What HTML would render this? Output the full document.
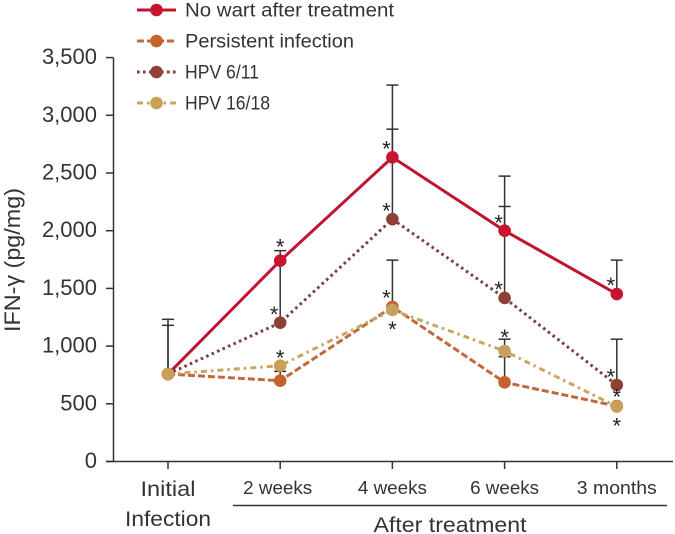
<!DOCTYPE html>
<html>
<head>
<meta charset="utf-8">
<style>
html,body{margin:0;padding:0;background:#fff;width:675px;height:534px;overflow:hidden}
svg{display:block;font-family:"Liberation Sans",sans-serif}
</style>
</head>
<body>
<svg id="chart" xmlns="http://www.w3.org/2000/svg" width="675" height="534" viewBox="0 0 675 534"></svg>
<script>
const categories = ["Initial", "2 weeks", "4 weeks", "6 weeks", "3 months"];
const yTicks = [0, 500, 1000, 1500, 2000, 2500, 3000, 3500];
const yTickLabels = ["0", "500", "1,000", "1,500", "2,000", "2,500", "3,000", "3,500"];

const noWartValues = [758, 1740, 2636, 2000, 1451];
const persistentValues = [758, 700, 1340, 686, 480];
const hpv611Values = [758, 1203, 2100, 1417, 663];
const hpv1618Values = [758, 830, 1313, 957, 476];

const noWartUpper = [1232, 1827, 3262, 2473, 1745];
const persistentUpper = [null, 781, 1745, 908, null];
const hpv611Upper = [1180, 1740, 2880, 2210, 1060];
const hpv1618Upper = [null, null, null, 1060, null];

const noWartStars = [null, 1885, 2734, 2093, 1549];
const persistentStars = [null, null, 1443, null, 334];
const hpv611Stars = [null, 1298, 2197, 1515, 758];
const hpv1618Stars = [null, 925, 1168, 1099, 585];

const noWartStarSide = ["", "center", "left", "left", "left"];
const persistentStarSide = ["", "", "left", "", "center"];
const hpv611StarSide = ["", "left", "left", "left", "left"];
const hpv1618StarSide = ["", "center", "center", "center", "center"];

const seriesNames = ["No wart after treatment", "Persistent infection", "HPV 6/11", "HPV 16/18"];

const svg = document.getElementById('chart');
const NS = 'http://www.w3.org/2000/svg';
const ink = '#333';

function xScale(i) { return 168 + i * 112.2; }
function yScale(v) { return 461.5 - v * 0.1154; }

function make(tag, attrs, text) {
  const el = document.createElementNS(NS, tag);
  for (const k in attrs) el.setAttribute(k, attrs[k]);
  if (text !== undefined) el.textContent = text;
  svg.appendChild(el);
  return el;
}

const styles = [
  { values: noWartValues, upper: noWartUpper, stars: noWartStars, side: noWartStarSide, line: '#c0152f', marker: '#c8142f', dash: '', width: 3, labelWidth: 209 },
  { values: persistentValues, upper: persistentUpper, stars: persistentStars, side: persistentStarSide, line: '#c1693c', marker: '#c4632e', dash: '7 3', width: 3, labelWidth: 169 },
  { values: hpv611Values, upper: hpv611Upper, stars: hpv611Stars, side: hpv611StarSide, line: '#7b3f42', marker: '#8f4034', dash: '2.6 3.4', width: 3, labelWidth: 74 },
  { values: hpv1618Values, upper: hpv1618Upper, stars: hpv1618Stars, side: hpv1618StarSide, line: '#c9a562', marker: '#c8a05a', dash: '6 4 2.5 4', width: 3, labelWidth: 85 }
];

/* axes */
const yAxis = make('line', { x1: 113.5, x2: 113.5, y1: yScale(3500), y2: yScale(0), stroke: ink, 'stroke-width': 1.5 });


const xAxis = make('line', { x1: 106, x2: 673, y1: yScale(0), y2: yScale(0), stroke: ink, 'stroke-width': 1.5 });



yTicks.forEach((t, i) => {
  const tick = make('line', { x1: 106, x2: 113.5, y1: yScale(t), y2: yScale(t), stroke: ink, 'stroke-width': 1.5 });
  
  
  const label = make('text', { x: 97, y: yScale(t) + 6.5, 'text-anchor': 'end', 'font-size': 22, fill: ink }, yTickLabels[i]);
  
  
});

categories.forEach((c, i) => {
  const tick = make('line', { x1: xScale(i), x2: xScale(i), y1: yScale(0), y2: 469, stroke: ink, 'stroke-width': 1.5 });
  
  
  if (i > 0) {
    const label = make('text', { x: xScale(i) - (i === 1 ? 2.5 : 0), y: 494, 'text-anchor': 'middle', 'font-size': 18.5, fill: ink, textLength: i === 4 ? 80 : 69, lengthAdjust: 'spacingAndGlyphs' }, c);
    
    
  }
});

const initialLabel = make('text', { x: xScale(0), y: 496, 'text-anchor': 'middle', 'font-size': 21, fill: ink, textLength: 55, lengthAdjust: 'spacingAndGlyphs' }, categories[0]);


const infectionLabel = make('text', { x: xScale(0), y: 526, 'text-anchor': 'middle', 'font-size': 21, fill: ink, textLength: 86, lengthAdjust: 'spacingAndGlyphs' }, 'Infection');



const bracket = make('line', { x1: 233, x2: 667, y1: 505.5, y2: 505.5, stroke: ink, 'stroke-width': 1.4 });


const bracketLabel = make('text', { x: 450, y: 532, 'text-anchor': 'middle', 'font-size': 21, fill: ink, textLength: 153, lengthAdjust: 'spacingAndGlyphs' }, 'After treatment');



const yTitle = make('text', { transform: 'translate(20,260) rotate(-90)', 'text-anchor': 'middle', 'font-size': 22, fill: ink, textLength: 144, lengthAdjust: 'spacingAndGlyphs' }, 'IFN-γ (pg/mg)');



/* error bars */
styles.forEach(s => {
  s.upper.forEach((u, i) => {
    if (u === null) return;
    const stem = make('line', { x1: xScale(i), x2: xScale(i), y1: yScale(u), y2: yScale(s.values[i]), stroke: '#333', 'stroke-width': 1.5 });
    
    
    const cap = make('line', { x1: xScale(i) - 6, x2: xScale(i) + 6, y1: yScale(u), y2: yScale(u), stroke: '#333', 'stroke-width': 1.5 });
    
    
  });
});

/* lines */
styles.forEach(s => {
  const pts = s.values.map((v, i) => xScale(i) + ',' + yScale(v)).join(' ');
  const line = make('polyline', { points: pts, fill: 'none', stroke: s.line, 'stroke-width': s.width, 'stroke-dasharray': s.dash });
  
  
});

/* markers */
styles.forEach(s => {
  s.values.forEach((v, i) => {
    const dot = make('circle', { cx: xScale(i), cy: yScale(v), r: 6.3, fill: s.marker });
    
    
  });
});

/* significance stars */
styles.forEach(s => {
  s.stars.forEach((v, i) => {
    if (v === null) return;
    const shift = s.side[i] === 'left' ? -6 : 0;
    const star = make('text', { x: xScale(i) + shift, y: yScale(v) + 10.5, 'text-anchor': 'middle', 'font-size': 22, fill: '#222' }, '*');
    
    
  });
});

/* legend */
seriesNames.forEach((name, i) => {
  const s = styles[i];
  const y = 10 + i * 31;
  const swatch = make('line', { x1: 137, x2: 176, y1: y, y2: y, stroke: s.line, 'stroke-width': s.width, 'stroke-dasharray': s.dash });
  
  
  const dot = make('circle', { cx: 156.5, cy: y, r: 6.3, fill: s.marker });
  
  
  const label = make('text', { x: 185, y: y + 6.5, 'font-size': 19, fill: ink, textLength: s.labelWidth, lengthAdjust: 'spacingAndGlyphs' }, name);
  
  
});
</script>
</body>
</html>
